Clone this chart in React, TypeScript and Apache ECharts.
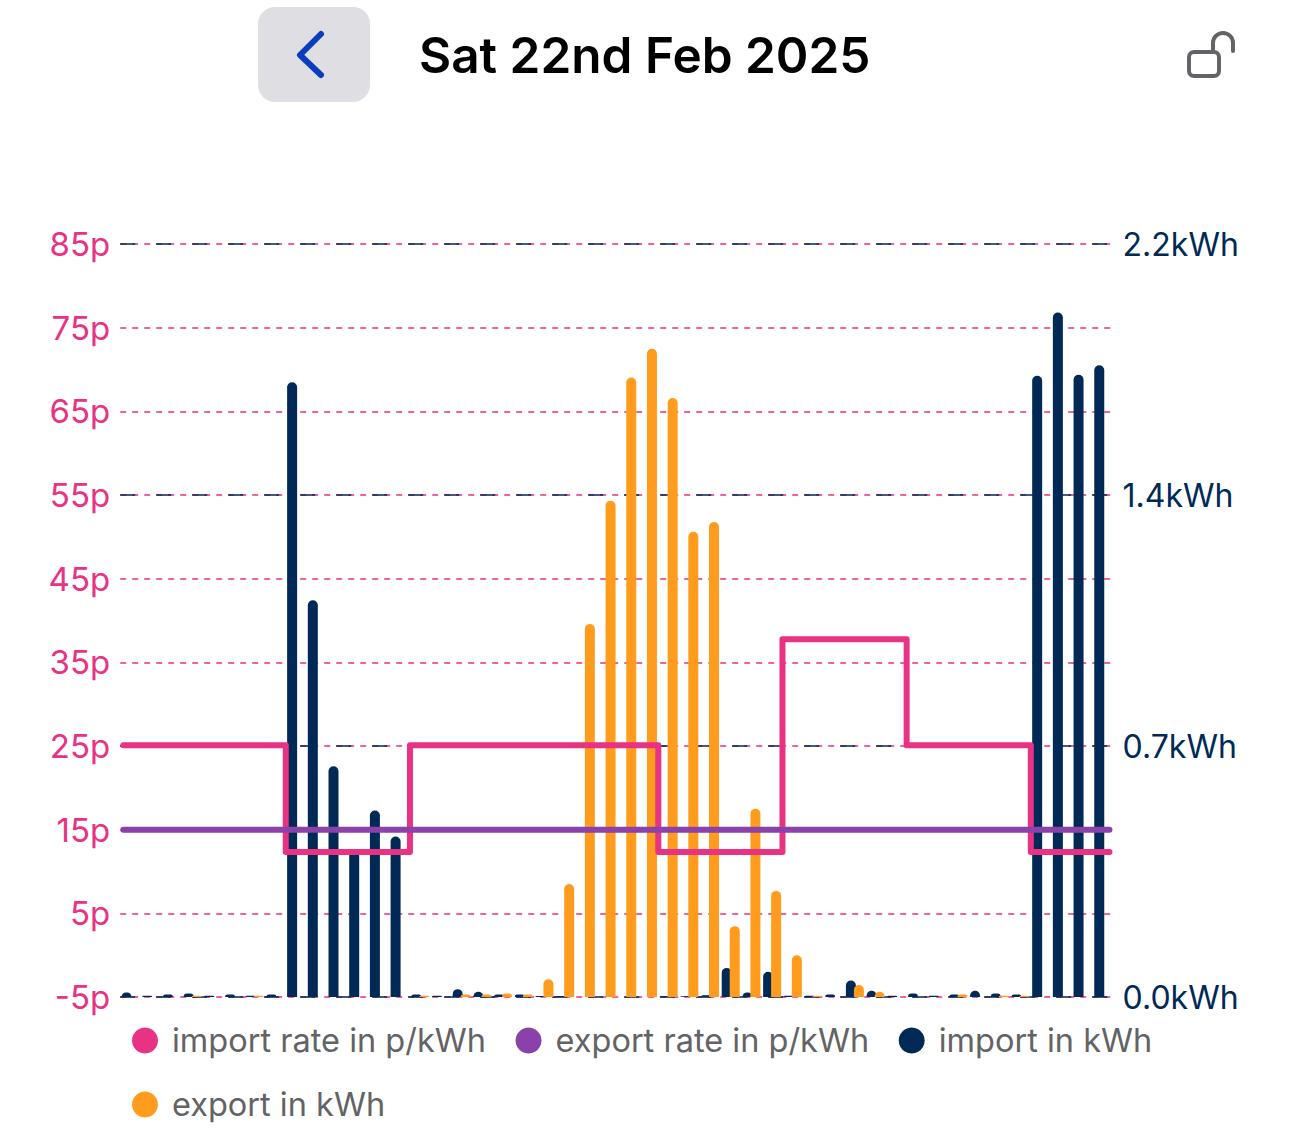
import React, { useEffect, useRef } from "react";
import * as echarts from "echarts";

const titleText = "Sat 22nd Feb 2025";
const halfHours = [
  "00:00","00:30","01:00","01:30","02:00","02:30","03:00","03:30","04:00","04:30","05:00","05:30",
  "06:00","06:30","07:00","07:30","08:00","08:30","09:00","09:30","10:00","10:30","11:00","11:30",
  "12:00","12:30","13:00","13:30","14:00","14:30","15:00","15:30","16:00","16:30","17:00","17:30",
  "18:00","18:30","19:00","19:30","20:00","20:30","21:00","21:30","22:00","22:30","23:00","23:30",
];
const importKwh = [
  0.013,0.004,0.007,0.01,0.004,0.007,0.004,0.007,1.796,1.159,0.674,0.43,
  0.545,0.469,0.007,0.004,0.023,0.015,0.007,0.007,0.003,0.003,0,0,
  0,0,0.002,0.002,0.005,0.085,0.013,0.074,0.004,0.004,0.007,0.048,
  0.018,0.004,0.01,0.004,0.007,0.018,0.01,0.007,1.815,2.0,1.818,1.846,
];
const exportKwh = [
  0,0,0,0.004,0,0,0.004,0,0,0,0,0,
  0,0,0.004,0,0.007,0.007,0.01,0.007,0.052,0.33,1.09,1.45,
  1.81,1.894,1.75,1.359,1.388,0.207,0.55,0.31,0.122,0.004,0,0.035,
  0.015,0,0,0,0.007,0,0.004,0.004,0,0,0,0,
];
const importRateSlots = [0.15, 8, 14, 26, 32, 38, 44, 47.8];
const importRateValues = [25.1, 12.33, 25.1, 12.33, 37.75, 25.1, 12.33, 12.33];
const exportRateSlots = [0.15, 47.8];
const exportRateValues = [15, 15];
const rateTicks = [-5, 5, 15, 25, 35, 45, 55, 65, 75, 85];
const kwhTicks = [0, 2.2 / 3, 4.4 / 3, 2.2];
const kwhTickLabels = ["0.0kWh", "0.7kWh", "1.4kWh", "2.2kWh"];

const PINK = "#E83283";
const PURPLE = "#8A41A9";
const NAVY = "#002A55";
const ORANGE = "#FF9C1E";
const FONT = "Inter";

echarts.graphic.registerShape(
  "shackle",
  echarts.graphic.extendPath("M 0 19 L 0 10 A 10 10 0 0 1 20 10 L 20 18", {}) as any
);

export default function App() {
  const ref = useRef<HTMLDivElement>(null);
  useEffect(() => {
    const chart = echarts.init(ref.current!, undefined, { renderer: "svg" });
    const legendBase = {
      icon: "circle", itemWidth: 44, itemHeight: 26, itemGap: 29.5, padding: 0, selectedMode: false, orient: "horizontal",
      textStyle: { color: "#636366", fontSize: 32.5, fontFamily: FONT },
    };
    const rateLine = { type: "line", xAxisIndex: 1, yAxisIndex: 0, showSymbol: false, clip: false };
    chart.setOption({
      animation: false,
      backgroundColor: "#fff",
      title: {
        text: titleText, left: 419, top: 29.5, padding: 0,
        textStyle: { color: "#000", fontSize: 49.5, fontWeight: 600, fontFamily: FONT },
      },
      grid: { left: 120.2, width: 993.4, top: 244, height: 753, containLabel: false },
      xAxis: [
        { type: "category", data: halfHours, show: false, boundaryGap: true },
        { type: "value", min: 0, max: 48, show: false },
      ],
      yAxis: [
        {
          type: "value", min: -5, max: 85, position: "left",
          axisLine: { show: false },
          axisTick: { show: false, customValues: rateTicks },
          axisLabel: { customValues: rateTicks, color: PINK, fontSize: 33, fontFamily: FONT, margin: 10, formatter: (v: number) => `${v}p` },
          splitLine: { show: true, lineStyle: { color: PINK, type: [6, 6], width: 1.5 } },
        },
        {
          type: "value", min: 0, max: 2.2, position: "right",
          axisLine: { show: false },
          axisTick: { show: false, customValues: kwhTicks },
          axisLabel: {
            customValues: kwhTicks, color: NAVY, fontSize: 32, fontFamily: FONT, margin: 9,
            formatter: (v: number) => kwhTickLabels[kwhTicks.findIndex((t) => Math.abs(t - v) < 1e-6)] ?? "",
          },
          splitLine: { show: true, lineStyle: { color: NAVY, type: [15, 21], width: 1.5 } },
        },
      ],
      legend: [
        { ...legendBase, left: 132, top: 1024, data: ["import rate in p/kWh", "export rate in p/kWh", "import in kWh"] },
        { ...legendBase, left: 132, top: 1088, data: ["export in kWh"] },
      ],
      series: [
        {
          name: "import in kWh", type: "bar", xAxisIndex: 0, yAxisIndex: 1, data: importKwh,
          barWidth: 10, barGap: "-20%", itemStyle: { color: NAVY, borderRadius: [5, 5, 0, 0] }, z: 2,
        },
        {
          name: "export in kWh", type: "bar", xAxisIndex: 0, yAxisIndex: 1, data: exportKwh,
          barWidth: 10, barGap: "-20%", itemStyle: { color: ORANGE, borderRadius: [5, 5, 0, 0] }, z: 3,
        },
        {
          ...rateLine, name: "import rate in p/kWh", step: "end",
          data: importRateSlots.map((s, i) => [s, importRateValues[i]]),
          itemStyle: { color: PINK }, lineStyle: { color: PINK, width: 6, cap: "round", join: "round" }, z: 4,
        },
        {
          ...rateLine, name: "export rate in p/kWh",
          data: exportRateSlots.map((s, i) => [s, exportRateValues[i]]),
          itemStyle: { color: PURPLE }, lineStyle: { color: PURPLE, width: 6, cap: "round", join: "round" }, z: 5,
        },
      ],
      graphic: [
        { type: "rect", shape: { x: 258, y: 7, width: 112, height: 95, r: 17 }, style: { fill: "#DFDFE3" } },
        {
          type: "polyline", shape: { points: [[321, 34], [300, 55], [321, 75]] },
          style: { stroke: "#0A3CBE", lineWidth: 6, fill: "none", lineCap: "round", lineJoin: "round" },
        },
        { type: "rect", shape: { x: 1189, y: 52, width: 30, height: 24, r: 5 }, style: { stroke: "#646468", lineWidth: 4, fill: "none" } },
        { type: "shackle", x: 1213, y: 33, style: { stroke: "#646468", lineWidth: 4, fill: "none", lineCap: "round" } },
      ],
    } as any);
    return () => chart.dispose();
  }, []);
  return <div ref={ref} style={{ position: "absolute", left: 0, top: 0, width: 1290, height: 1144 }} />;
}
